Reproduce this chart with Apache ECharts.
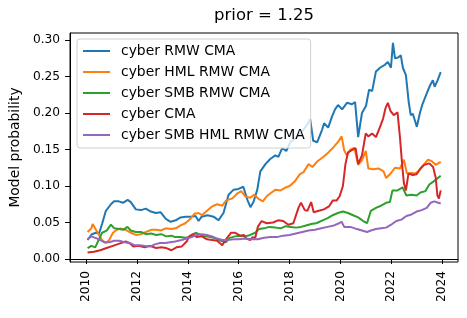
<!DOCTYPE html>
<html>
<head>
<meta charset="utf-8">
<script src="https://cdn.jsdelivr.net/npm/echarts@6/dist/echarts.min.js"></script>
<style>html,body{margin:0;padding:0;background:#fff}#c{width:467px;height:318px}</style>
</head>
<body>
<div id="c"></div>
<script>
// ---- data (year, model probability) ----
const seriesNames = ['cyber RMW CMA','cyber HML RMW CMA','cyber SMB RMW CMA','cyber CMA','cyber SMB HML RMW CMA'];
const xTickLabels = [2010,2012,2014,2016,2018,2020,2022,2024];
const yTickLabels = [0.00,0.05,0.10,0.15,0.20,0.25,0.30];

const rmwCma = [[2010.05,0.026],[2010.22,0.034],[2010.38,0.036],[2010.5,0.035],[2010.62,0.048],[2010.77,0.066],[2010.97,0.075],[2011.09,0.079],[2011.28,0.079],[2011.44,0.077],[2011.63,0.081],[2011.75,0.078],[2011.95,0.068],[2012.15,0.067],[2012.34,0.069],[2012.54,0.065],[2012.73,0.063],[2012.93,0.064],[2013.13,0.055],[2013.32,0.051],[2013.52,0.053],[2013.71,0.057],[2013.91,0.058],[2014.11,0.058],[2014.3,0.059],[2014.42,0.052],[2014.54,0.058],[2014.77,0.060],[2015.01,0.058],[2015.2,0.053],[2015.4,0.063],[2015.6,0.088],[2015.8,0.095],[2015.99,0.096],[2016.18,0.099],[2016.34,0.081],[2016.46,0.071],[2016.58,0.078],[2016.73,0.095],[2016.85,0.120],[2017.05,0.130],[2017.24,0.137],[2017.44,0.142],[2017.56,0.140],[2017.71,0.152],[2017.87,0.148],[2018.03,0.160],[2018.22,0.165],[2018.42,0.172],[2018.61,0.180],[2018.73,0.186],[2018.81,0.192],[2018.93,0.162],[2019.09,0.160],[2019.28,0.177],[2019.36,0.186],[2019.52,0.180],[2019.67,0.195],[2019.79,0.205],[2019.91,0.211],[2020.07,0.205],[2020.26,0.214],[2020.46,0.212],[2020.58,0.215],[2020.7,0.167],[2020.85,0.200],[2021.01,0.210],[2021.13,0.232],[2021.25,0.230],[2021.4,0.257],[2021.56,0.262],[2021.75,0.266],[2021.87,0.270],[2021.99,0.262],[2022.07,0.296],[2022.15,0.275],[2022.27,0.276],[2022.38,0.279],[2022.46,0.262],[2022.58,0.252],[2022.69,0.215],[2022.77,0.197],[2022.85,0.199],[2022.93,0.190],[2023.01,0.181],[2023.13,0.200],[2023.24,0.213],[2023.4,0.227],[2023.52,0.237],[2023.64,0.245],[2023.71,0.236],[2023.83,0.245],[2023.95,0.256]];

const hmlRmwCma = [[2010.05,0.037],[2010.2,0.042],[2010.25,0.048],[2010.38,0.040],[2010.5,0.033],[2010.62,0.026],[2010.77,0.022],[2010.9,0.026],[2011.05,0.036],[2011.2,0.040],[2011.35,0.042],[2011.55,0.040],[2011.75,0.036],[2011.95,0.033],[2012.15,0.034],[2012.35,0.037],[2012.55,0.040],[2012.75,0.040],[2012.93,0.039],[2013.13,0.042],[2013.32,0.041],[2013.52,0.042],[2013.71,0.046],[2013.9,0.049],[2014.1,0.055],[2014.25,0.062],[2014.42,0.063],[2014.55,0.060],[2014.75,0.066],[2014.95,0.072],[2015.15,0.075],[2015.35,0.073],[2015.5,0.080],[2015.75,0.083],[2015.95,0.090],[2016.1,0.093],[2016.25,0.086],[2016.45,0.084],[2016.6,0.088],[2016.8,0.082],[2016.95,0.079],[2017.1,0.086],[2017.25,0.090],[2017.45,0.095],[2017.65,0.094],[2017.85,0.098],[2018.0,0.100],[2018.2,0.106],[2018.4,0.116],[2018.55,0.119],[2018.75,0.130],[2018.9,0.126],[2019.1,0.134],[2019.3,0.139],[2019.5,0.145],[2019.7,0.152],[2019.9,0.160],[2020.05,0.168],[2020.15,0.149],[2020.25,0.142],[2020.4,0.150],[2020.55,0.152],[2020.7,0.129],[2020.85,0.135],[2021.0,0.148],[2021.1,0.124],[2021.3,0.123],[2021.5,0.124],[2021.7,0.120],[2021.8,0.111],[2021.95,0.116],[2022.15,0.125],[2022.35,0.124],[2022.5,0.136],[2022.62,0.117],[2022.8,0.118],[2022.95,0.117],[2023.1,0.121],[2023.25,0.128],[2023.45,0.136],[2023.6,0.134],[2023.75,0.129],[2023.95,0.133]];

const smbRmwCma = [[2010.05,0.015],[2010.2,0.018],[2010.35,0.016],[2010.5,0.027],[2010.62,0.036],[2010.8,0.039],[2010.97,0.047],[2011.1,0.042],[2011.3,0.041],[2011.45,0.040],[2011.62,0.044],[2011.75,0.039],[2011.95,0.037],[2012.15,0.037],[2012.35,0.034],[2012.55,0.035],[2012.75,0.033],[2012.95,0.034],[2013.15,0.031],[2013.35,0.032],[2013.5,0.030],[2013.7,0.030],[2013.9,0.029],[2014.1,0.031],[2014.3,0.036],[2014.5,0.033],[2014.7,0.031],[2014.9,0.030],[2015.1,0.028],[2015.3,0.025],[2015.5,0.023],[2015.65,0.029],[2015.85,0.031],[2016.05,0.032],[2016.25,0.031],[2016.45,0.033],[2016.65,0.036],[2016.8,0.041],[2017.0,0.042],[2017.2,0.044],[2017.45,0.043],[2017.65,0.042],[2017.85,0.045],[2018.05,0.044],[2018.25,0.043],[2018.45,0.044],[2018.65,0.046],[2018.85,0.048],[2019.05,0.049],[2019.3,0.053],[2019.5,0.056],[2019.7,0.060],[2019.9,0.063],[2020.1,0.065],[2020.3,0.063],[2020.5,0.060],[2020.7,0.057],[2020.9,0.052],[2021.05,0.049],[2021.2,0.066],[2021.4,0.070],[2021.6,0.073],[2021.8,0.077],[2021.95,0.078],[2022.05,0.094],[2022.25,0.094],[2022.45,0.098],[2022.6,0.087],[2022.8,0.088],[2023.0,0.087],[2023.15,0.091],[2023.35,0.093],[2023.5,0.102],[2023.7,0.107],[2023.95,0.114]];

const cma = [[2010.05,0.009],[2010.3,0.010],[2010.55,0.012],[2010.8,0.015],[2011.05,0.018],[2011.3,0.021],[2011.55,0.024],[2011.7,0.022],[2011.85,0.017],[2012.05,0.018],[2012.3,0.016],[2012.5,0.018],[2012.75,0.015],[2012.95,0.016],[2013.15,0.015],[2013.35,0.012],[2013.55,0.016],[2013.75,0.017],[2013.95,0.024],[2014.05,0.031],[2014.2,0.034],[2014.35,0.030],[2014.55,0.031],[2014.75,0.027],[2014.95,0.026],[2015.15,0.025],[2015.35,0.019],[2015.5,0.027],[2015.7,0.036],[2015.85,0.036],[2016.05,0.032],[2016.2,0.033],[2016.3,0.028],[2016.45,0.026],[2016.55,0.030],[2016.65,0.029],[2016.75,0.044],[2016.9,0.052],[2017.1,0.049],[2017.35,0.050],[2017.55,0.053],[2017.75,0.052],[2017.95,0.047],[2018.15,0.049],[2018.35,0.070],[2018.45,0.077],[2018.6,0.067],[2018.7,0.066],[2018.85,0.078],[2018.95,0.064],[2019.15,0.066],[2019.35,0.068],[2019.55,0.072],[2019.7,0.080],[2019.85,0.080],[2019.97,0.086],[2020.1,0.100],[2020.2,0.130],[2020.3,0.146],[2020.45,0.149],[2020.6,0.152],[2020.7,0.130],[2020.85,0.142],[2021.0,0.172],[2021.1,0.168],[2021.25,0.172],[2021.4,0.167],[2021.55,0.180],[2021.68,0.192],[2021.78,0.207],[2021.87,0.214],[2021.97,0.203],[2022.1,0.197],[2022.25,0.201],[2022.35,0.165],[2022.43,0.130],[2022.5,0.104],[2022.58,0.094],[2022.68,0.117],[2022.85,0.115],[2023.0,0.116],[2023.15,0.124],[2023.3,0.129],[2023.5,0.131],[2023.65,0.126],[2023.75,0.112],[2023.82,0.087],[2023.88,0.083],[2023.95,0.094]];

const smbHmlRmwCma = [[2010.05,0.027],[2010.2,0.031],[2010.35,0.029],[2010.5,0.027],[2010.7,0.023],[2010.9,0.023],[2011.1,0.025],[2011.3,0.025],[2011.5,0.023],[2011.7,0.022],[2011.9,0.019],[2012.1,0.019],[2012.3,0.018],[2012.5,0.017],[2012.7,0.020],[2012.9,0.022],[2013.1,0.022],[2013.3,0.023],[2013.5,0.024],[2013.75,0.026],[2013.95,0.028],[2014.15,0.030],[2014.35,0.033],[2014.55,0.034],[2014.75,0.033],[2014.95,0.031],[2015.15,0.028],[2015.35,0.026],[2015.55,0.026],[2015.8,0.027],[2016.0,0.027],[2016.25,0.028],[2016.5,0.027],[2016.75,0.027],[2017.0,0.029],[2017.25,0.030],[2017.5,0.030],[2017.75,0.032],[2018.0,0.033],[2018.25,0.035],[2018.5,0.037],[2018.75,0.039],[2019.0,0.040],[2019.25,0.042],[2019.5,0.044],[2019.75,0.046],[2019.95,0.049],[2020.05,0.051],[2020.15,0.044],[2020.4,0.044],[2020.65,0.041],[2020.85,0.039],[2021.05,0.037],[2021.2,0.039],[2021.4,0.041],[2021.6,0.042],[2021.8,0.043],[2022.0,0.047],[2022.2,0.052],[2022.4,0.054],[2022.6,0.059],[2022.8,0.061],[2023.0,0.065],[2023.2,0.067],[2023.4,0.070],[2023.55,0.077],[2023.7,0.079],[2023.85,0.077],[2023.95,0.076]];

const seriesData = [rmwCma, hmlRmwCma, smbRmwCma, cma, smbHmlRmwCma];
const colors = ['#1f77b4','#ff7f0e','#2ca02c','#d62728','#9467bd'];

const FONT = 'DejaVu Sans';
const chart = echarts.init(document.getElementById('c'), null, {renderer:'canvas'});
chart.setOption({
  animation: false,
  color: colors,
  title: {
    text: 'prior = 1.25', left: 264, top: 7, textAlign: 'center', padding: 0,
    textStyle: {fontFamily: FONT, fontSize: 16.5, fontWeight: 'normal', color: '#000'}
  },
  legend: {
    data: seriesNames, orient: 'vertical', left: 77, top: 39,
    icon: 'rect', itemWidth: 27, itemHeight: 2, itemGap: 5,
    padding: [4, 6, 5, 6],
    backgroundColor: 'rgba(255,255,255,0.8)', borderColor: '#d0d0d0', borderWidth: 1, borderRadius: 3,
    textStyle: {fontFamily: FONT, fontSize: 13.9, color: '#000', padding: [0,0,0,6], lineHeight: 16}
  },
  grid: {left: 70, right: 9, top: 33, bottom: 56, show: true, borderColor: '#000', borderWidth: 1, containLabel: false},
  xAxis: {
    type: 'value', min: 2009.36, max: 2024.63,
    splitLine: {show: false},
    axisLine: {show: true, lineStyle: {color: '#000', width: 1}},
    axisTick: {show: true, length: 5, lineStyle: {color: '#000'}, customValues: xTickLabels},
    axisLabel: {rotate: 90, fontFamily: FONT, fontSize: 12.2, color: '#000', margin: 9, customValues: xTickLabels, formatter: v => String(v)}
  },
  yAxis: {
    type: 'value', min: -0.0041, max: 0.3096,
    name: 'Model probability', nameLocation: 'middle', nameGap: 47, nameRotate: 90,
    nameTextStyle: {fontFamily: FONT, fontSize: 13.9, color: '#000'},
    splitLine: {show: false},
    axisLine: {show: true, lineStyle: {color: '#000', width: 1}},
    axisTick: {show: true, length: 5, lineStyle: {color: '#000'}, customValues: yTickLabels},
    axisLabel: {fontFamily: FONT, fontSize: 12.2, color: '#000', margin: 10, customValues: yTickLabels, formatter: v => v.toFixed(2)}
  },
  series: seriesNames.map((n, i) => ({
    name: n, type: 'line', data: seriesData[i], showSymbol: false, symbol: 'none',
    lineStyle: {width: 2, color: colors[i]}, itemStyle: {color: colors[i]}, z: 2
  }))
});
</script>
</body>
</html>
